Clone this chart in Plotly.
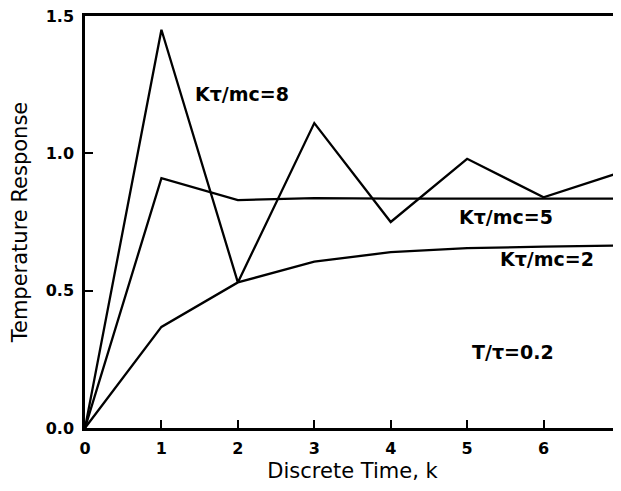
import plotly.graph_objects as go

k = [0, 1, 2, 3, 4, 5, 6, 7]
resp_8 = [0.0, 1.45, 0.53, 1.11, 0.75, 0.98, 0.84, 0.93]
resp_5 = [0.0, 0.91, 0.83, 0.837, 0.835, 0.835, 0.835, 0.835]
resp_2 = [0.0, 0.368, 0.53, 0.606, 0.64, 0.655, 0.66, 0.664]

labels = ["K\u03c4/mc=8", "K\u03c4/mc=5", "K\u03c4/mc=2", "T/\u03c4=0.2"]
label_x = [1.41, 4.87, 5.40, 5.04]
label_y = [1.215, 0.77, 0.615, 0.275]

fig = go.Figure()
for ys in [resp_8, resp_5, resp_2]:
    fig.add_trace(go.Scatter(x=k, y=ys, mode="lines",
                             line=dict(color="black", width=2.3),
                             showlegend=False))

for t, x, y in zip(labels, label_x, label_y):
    fig.add_annotation(x=x, y=y, text=t, showarrow=False, xanchor="left",
                       font=dict(family="DejaVu Sans", size=19, color="black", weight="bold"))

axis_style = dict(showline=True, linecolor="black", linewidth=2.5, mirror=True,
                  ticks="inside", ticklen=8, tickwidth=2, tickcolor="black",
                  showgrid=False, zeroline=False, automargin=False,
                  ticklabeloverflow="allow",
                  tickfont=dict(family="DejaVu Sans", size=16, color="black", weight="bold"))

fig.update_xaxes(range=[0, 7], dtick=1, ticklabelstandoff=4, **axis_style,
                 title=dict(text="Discrete Time, k",
                            font=dict(family="DejaVu Sans", size=21, color="black"),
                            standoff=9))
fig.update_yaxes(range=[0, 1.5], dtick=0.5, tickformat=".1f", ticklabelstandoff=5,
                 **axis_style,
                 title=dict(text="Temperature Response",
                            font=dict(family="DejaVu Sans", size=21, color="black"),
                            standoff=19))

# the page body adds an 8px margin, so keep the figure inside the window
fig.update_layout(width=613, height=475, plot_bgcolor="white", paper_bgcolor="white",
                  margin=dict(l=77, r=1, t=8, b=55))

fig.write_html("out.html")
